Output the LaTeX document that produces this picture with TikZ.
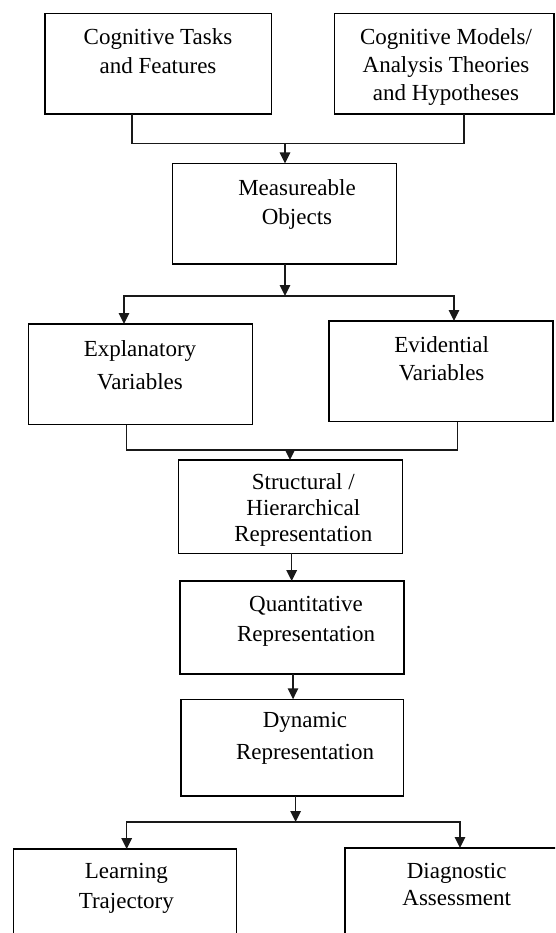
\documentclass[tikz,border=0pt]{standalone}
\usepackage{fontspec}
\setmainfont{Liberation Serif}
\usetikzlibrary{arrows.meta}
\tikzset{
  box/.style={draw=black, line width=1.5pt, inner sep=0pt, outer sep=0pt, rectangle},
  txt/.style={align=center, anchor=north, inner sep=0pt, font=\fontsize{23}{#1}\selectfont},
  txt/.default=28,
  conn/.style={draw=black!90, line width=1.5pt},
  arr/.style={conn, -{Triangle[width=10.5pt,length=11pt]}},
}
\begin{document}
\begin{tikzpicture}[x=1pt,y=-1pt]
\useasboundingbox (0,0) rectangle (555,933);
\clip (0,0) rectangle (555,933);
% boxes
\node[box, minimum width=226.5pt, minimum height=100.5pt] (b1) at (158.25,63.75) {};
\node[box, minimum width=219.5pt, minimum height=100.5pt] (b2) at (444.25,63.75) {};
\node[box, minimum width=223.8pt, minimum height=100.5pt] (meas) at (284.6,213.75) {};
\node[box, minimum width=224.1pt, minimum height=100.7pt] (expl) at (140.35,374.35) {};
\node[box, minimum width=224pt, minimum height=100.5pt] (evid) at (441,371.25) {};
\node[box, minimum width=224pt, minimum height=93.3pt] (struct) at (290.3,506.65) {};
\node[box, minimum width=224pt, minimum height=93pt] (quant) at (292,627.5) {};
\node[box, minimum width=222.5pt, minimum height=96.7pt] (dyn) at (292.25,747.65) {};
\node[box, minimum width=223pt, minimum height=101pt] (learn) at (125,899.5) {};
\node[box, minimum width=225pt, minimum height=102pt] (diag) at (457.5,899) {};
% texts
\node[txt=28.4] (t1) at (158,28.5) {Cognitive Tasks\\and Features};
\node[txt=28] (t2) at (446,28.3) {Cognitive Models/\\Analysis Theories\\and Hypotheses};
\node[txt=29] (t3) at (297,179.6) {Measureable\\Objects};
\node[txt=33] (t4) at (140,340.3) {Explanatory\\Variables};
\node[txt=27.6] (t5) at (441.6,336.8) {Evidential\\Variables};
\node[txt=26.2] (t6) at (303.3,473.4) {Structural /\\Hierarchical\\Representation};
\node[txt=30] (t7) at (306,596) {Quantitative\\Representation};
\node[txt=32.7] (t8) at (305,711.6) {Dynamic\\Representation};
\node[txt=30] (t9) at (126.3,863) {Learning\\Trajectory};
\node[txt=27.3] (t10) at (456.7,863) {Diagnostic\\Assessment};
% junctions
\coordinate (j1) at (285,143.4);
\coordinate (j2) at (285,296);
\coordinate (j3) at (290,450);
\coordinate (j4) at (295.6,822);
% connectors
\draw[conn] ([xshift=-26.5pt]b1.south) |- (j1) -| ([xshift=19.5pt]b2.south);
\draw[arr] (j1) -- (j1 |- meas.north);
\draw[arr] (j2 |- meas.south) -- (j2);
\draw[arr] (j2) -| ([xshift=-16.35pt]expl.north);
\draw[arr] (j2) -| ([xshift=13pt]evid.north);
\draw[conn] ([xshift=-13.65pt]expl.south) |- (j3) -| ([xshift=16.3pt]evid.south);
\draw[arr] (j3) -- (j3 |- struct.north);
\draw[arr] ([xshift=1.4pt]struct.south) -- ([xshift=1.4pt]struct.south |- quant.north);
\draw[arr] ([xshift=1pt]quant.south) -- ([xshift=1pt]quant.south |- dyn.north);
\draw[arr] (j4 |- dyn.south) -- (j4);
\draw[arr] (j4) -| ([xshift=1.7pt]learn.north);
\draw[arr] (j4) -| ([xshift=2.5pt]diag.north);
\end{tikzpicture}
\end{document}
